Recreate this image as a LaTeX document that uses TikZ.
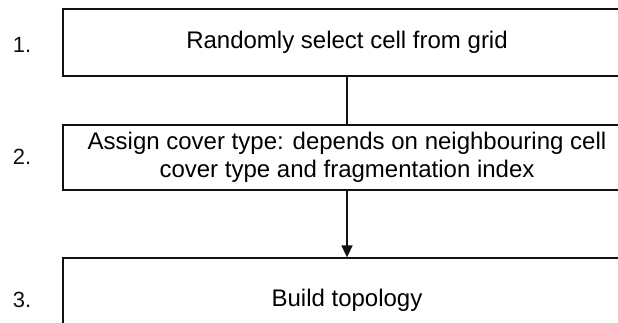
\documentclass[tikz,border=0pt]{standalone}
\usepackage{fontspec}
\setmainfont{Liberation Sans}
\usepackage{tikz}
\usetikzlibrary{arrows.meta,positioning}
\usepackage{xcolor}
\definecolor{ink}{HTML}{111111}
\tikzset{
  stepbox/.style={draw=ink, fill=white, align=center, line width=1.3pt,
                  minimum width=568pt, inner sep=4pt,
                  font=\fontsize{24}{28}\selectfont},
  num/.style={font=\fontsize{22}{26}\selectfont, text=ink},
  ln/.style={line width=1.5pt, draw=ink},
  ar/.style={-{Triangle[length=12pt,width=11pt]}, line width=1.5pt, draw=ink}
}
\begin{document}
\begin{tikzpicture}[x=1pt,y=-1pt]
  \useasboundingbox (0,0) rectangle (618,323);
  \node[stepbox, minimum height=67pt] (cell) at (347,42.5)
    {Randomly select cell from grid};
  \node[stepbox, minimum height=65pt] (cover) at (347,157.5)
    {Assign cover type: depends on neighbouring cell\\cover type and fragmentation index};
  \node[stepbox, minimum height=84pt] (topo) at (347,300)
    {Build topology};
  \node[num] (n1) at (22,45) {1.};
  \node[num] (n2) at (22,157) {2.};
  \node[num] (n3) at (22,300) {3.};
  \draw[ln] (cell.south) -- (cover.north);
  \draw[ar] (cover.south) -- (topo.north);
\end{tikzpicture}
\end{document}
